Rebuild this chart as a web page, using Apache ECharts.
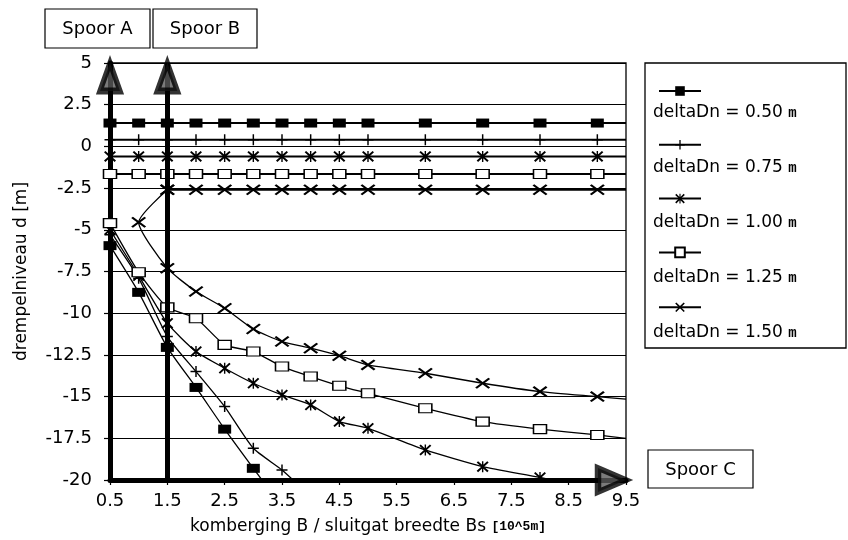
<!DOCTYPE html>
<html>
<head>
<meta charset="utf-8">
<script src="https://cdn.jsdelivr.net/npm/echarts@6/dist/echarts.min.js"></script>
<style>
  html, body { margin: 0; background: #fff; }
  #chart { width: 848px; height: 540px; }
</style>
</head>
<body>
<div id="chart"></div>
<script>
// x-as ticks (0.5 .. 9.5) en y-as grenzen
const xTicks = [0.5, 1.5, 2.5, 3.5, 4.5, 5.5, 6.5, 7.5, 8.5, 9.5];
const yMin = -20;
const yMax = 5;

const names = [
  "deltaDn = 0.50 m",
  "deltaDn = 0.75 m",
  "deltaDn = 1.00 m",
  "deltaDn = 1.25 m",
  "deltaDn = 1.50 m",
];

// bovenste tak (vlakke lijnen)
const xUpper = [0.5, 1, 1.5, 2, 2.5, 3, 3.5, 4, 4.5, 5, 6, 7, 8, 9, 9.5];
const upper050 = [1.4, 1.4, 1.4, 1.4, 1.4, 1.4, 1.4, 1.4, 1.4, 1.4, 1.4, 1.4, 1.4, 1.4, 1.4];
const upper075 = [0.4, 0.4, 0.4, 0.4, 0.4, 0.4, 0.4, 0.4, 0.4, 0.4, 0.4, 0.4, 0.4, 0.4, 0.4];
const upper100 = [-0.6, -0.6, -0.6, -0.6, -0.6, -0.6, -0.6, -0.6, -0.6, -0.6, -0.6, -0.6, -0.6, -0.6, -0.6];
const upper125 = [-1.65, -1.65, -1.65, -1.65, -1.65, -1.65, -1.65, -1.65, -1.65, -1.65, -1.65, -1.65, -1.65, -1.65, -1.65];
const xUpper150 = [1.5, 2, 2.5, 3, 3.5, 4, 4.5, 5, 6, 7, 8, 9, 9.5];
const upper150 = [-2.6, -2.6, -2.6, -2.6, -2.6, -2.6, -2.6, -2.6, -2.6, -2.6, -2.6, -2.6, -2.6];

// onderste tak (dalende krommen)
const xLower = [0.5, 1, 1.5, 2, 2.5, 3, 3.5, 4, 4.5, 5, 6, 7, 8, 9, 9.5];
const lower050 = [-5.95, -8.75, -12.05, -14.45, -16.95, -19.3, -21.6];
const lower075 = [-5.3, -7.9, -11.4, -13.5, -15.6, -18.1, -19.4, -21.0];
const lower100 = [-5.0, -7.75, -10.6, -12.3, -13.3, -14.2, -14.9, -15.5, -16.5, -16.9, -18.2, -19.2, -19.85, -20.6];
const lower125 = [-4.6, -7.55, -9.65, -10.3, -11.9, -12.3, -13.2, -13.8, -14.35, -14.8, -15.7, -16.5, -16.95, -17.3, -17.5];
const xLower150 = [1.5, 1, 1.5, 2, 2.5, 3, 3.5, 4, 4.5, 5, 6, 7, 8, 9, 9.5];
const lower150 = [-2.6, -4.55, -7.3, -8.7, -9.7, -10.95, -11.7, -12.1, -12.55, -13.1, -13.6, -14.2, -14.7, -15.0, -15.15];

// sporen
const spoorX = [0.5, 1.5];
const spoorLabels = ["Spoor A", "Spoor B", "Spoor C"];

const FONT = "DejaVu Sans";
const MONO = "Liberation Mono";

const plusPath = "path://M-0.8,-6H0.8V-0.8H6V0.8H0.8V6H-0.8V0.8H-6V-0.8H-0.8Z";
const crossPath = "path://M-6,-4.6L-4.6,-6L0,-1.4L4.6,-6L6,-4.6L1.4,0L6,4.6L4.6,6L0,1.4L-4.6,6L-6,4.6L-1.4,0Z";
const starPath = crossPath + "M-0.7,-6H0.7V6H-0.7Z";

const markers = [
  { symbol: "rect", size: [13, 9], itemStyle: { color: "#000" } },
  { symbol: plusPath, size: [11, 11], itemStyle: { color: "#000" } },
  { symbol: starPath, size: [12, 11], itemStyle: { color: "#000" } },
  { symbol: "rect", size: [13, 9], itemStyle: { color: "#fff", borderColor: "#000", borderWidth: 1.3 } },
  { symbol: crossPath, size: [15, 11], itemStyle: { color: "#000" } },
];

const branches = [
  [xUpper, upper050, xLower, lower050],
  [xUpper, upper075, xLower, lower075],
  [xUpper, upper100, xLower, lower100],
  [xUpper, upper125, xLower, lower125],
  [xUpper150, upper150, xLower150, lower150],
];

// het eindpunt op de rechterrand krijgt geen symbool
const zip = (xs, ys) =>
  ys.map((y, i) =>
    xs[i] >= 9.5 ? { value: [xs[i], y], symbol: "none" } : [xs[i], y]
  );

const series = [];
branches.forEach((b, i) => {
  const m = markers[i];
  const base = {
    name: names[i],
    type: "line",
    symbol: m.symbol,
    symbolSize: m.size,
    itemStyle: m.itemStyle,
    animation: false,
    emphasis: { disabled: true },
  };
  series.push(Object.assign({}, base, {
    data: zip(b[0], b[1]),
    lineStyle: { color: "#000", width: 2 },
    z: 3,
  }));
  series.push(Object.assign({}, base, {
    data: zip(b[2], b[3]),
    smooth: 0.2,
    lineStyle: { color: "#000", width: 1.3 },
    z: 3,
  }));
});

// pijlpunten en spoor B
const arrowStyle = { color: "#5a5a5a", borderColor: "#000", borderWidth: 6 };
series.push({
  type: "scatter",
  data: spoorX.map((x) => [x, yMax]),
  symbol: "triangle",
  symbolSize: [20, 28],
  symbolOffset: [0, 14],
  clip: false,
  silent: true,
  z: 6,
  animation: false,
  itemStyle: arrowStyle,
  markLine: {
    silent: true,
    symbol: ["none", "none"],
    animation: false,
    label: { show: false },
    lineStyle: { color: "#000", width: 5, type: "solid" },
    data: [{ xAxis: spoorX[1] }],
  },
});
series.push({
  type: "scatter",
  data: [[xTicks[xTicks.length - 1], yMin]],
  symbol: "triangle",
  symbolSize: [24, 28],
  symbolRotate: -90,
  symbolOffset: [-14, 0],
  clip: false,
  silent: true,
  z: 6,
  animation: false,
  itemStyle: arrowStyle,
});

const legendRich = {
  a: { fontFamily: FONT, fontSize: 17, color: "#000" },
  b: { fontFamily: MONO, fontSize: 14, fontWeight: "bold", color: "#000" },
};

const boxes = [
  { x: 45, y: 9, w: 105, h: 39 },
  { x: 153, y: 9, w: 104, h: 39 },
  { x: 648, y: 450, w: 105, h: 38 },
];

const graphic = [
  {
    type: "rect",
    shape: { x: 645, y: 63, width: 201, height: 285 },
    style: { fill: "none", stroke: "#000", lineWidth: 1.3 },
  },
];
boxes.forEach((bx, i) => {
  graphic.push({
    type: "rect",
    shape: { x: bx.x, y: bx.y, width: bx.w, height: bx.h },
    style: { fill: "#fff", stroke: "#000", lineWidth: 1.2 },
  });
  graphic.push({
    type: "text",
    x: bx.x + bx.w / 2,
    y: bx.y + bx.h / 2 + 1,
    style: {
      text: spoorLabels[i],
      fontFamily: FONT,
      fontSize: 18,
      fill: "#000",
      align: "center",
      verticalAlign: "middle",
    },
  });
});
names.forEach((n, i) => {
  graphic.push({
    type: "text",
    x: 653,
    y: 113 + i * 55,
    style: {
      text: "{a|" + n.slice(0, -1) + "}{b|" + n.slice(-1) + "}",
      rich: legendRich,
      verticalAlign: "middle",
    },
  });
});

const option = {
  backgroundColor: "#fff",
  animation: false,
  grid: {
    left: 110,
    right: 222,
    top: 63,
    bottom: 59,
    show: true,
    borderColor: "#000",
    borderWidth: 1.3,
  },
  legend: {
    data: names,
    orient: "vertical",
    left: 653,
    top: 80,
    itemWidth: 42,
    itemHeight: 12,
    itemGap: 43,
    selectedMode: false,
    formatter: () => "",
    textStyle: { fontSize: 1 },
  },
  xAxis: {
    type: "value",
    min: xTicks[0],
    max: xTicks[xTicks.length - 1],
    name: "{a|komberging B / sluitgat breedte Bs }{b|[10^5m]}",
    nameLocation: "middle",
    nameGap: 38,
    nameTextStyle: {
      rich: {
        a: { fontFamily: FONT, fontSize: 17, color: "#000" },
        b: { fontFamily: MONO, fontSize: 13, fontWeight: "bold", color: "#000" },
      },
    },
    axisLine: { onZero: false, lineStyle: { color: "#000", width: 5 } },
    axisTick: { customValues: xTicks, length: 5, lineStyle: { color: "#000", width: 1.2 } },
    axisLabel: {
      customValues: xTicks,
      margin: 12,
      fontFamily: FONT,
      fontSize: 18,
      color: "#000",
    },
    splitLine: { show: false },
  },
  yAxis: {
    type: "value",
    min: yMin,
    max: yMax,
    interval: 2.5,
    name: "drempelniveau d [m]",
    nameLocation: "middle",
    nameGap: 80,
    nameTextStyle: { fontFamily: FONT, fontSize: 17, color: "#000" },
    axisLine: { show: true, lineStyle: { color: "#000", width: 5 } },
    axisTick: { show: true, length: 6, lineStyle: { color: "#000", width: 1.2 } },
    axisLabel: { margin: 18, fontFamily: FONT, fontSize: 18, color: "#000" },
    splitLine: { show: true, lineStyle: { color: "#000", width: 1.2 } },
  },
  graphic: graphic,
  series: series,
};

const myChart = echarts.init(document.getElementById("chart"));
myChart.setOption(option);
</script>
</body>
</html>
